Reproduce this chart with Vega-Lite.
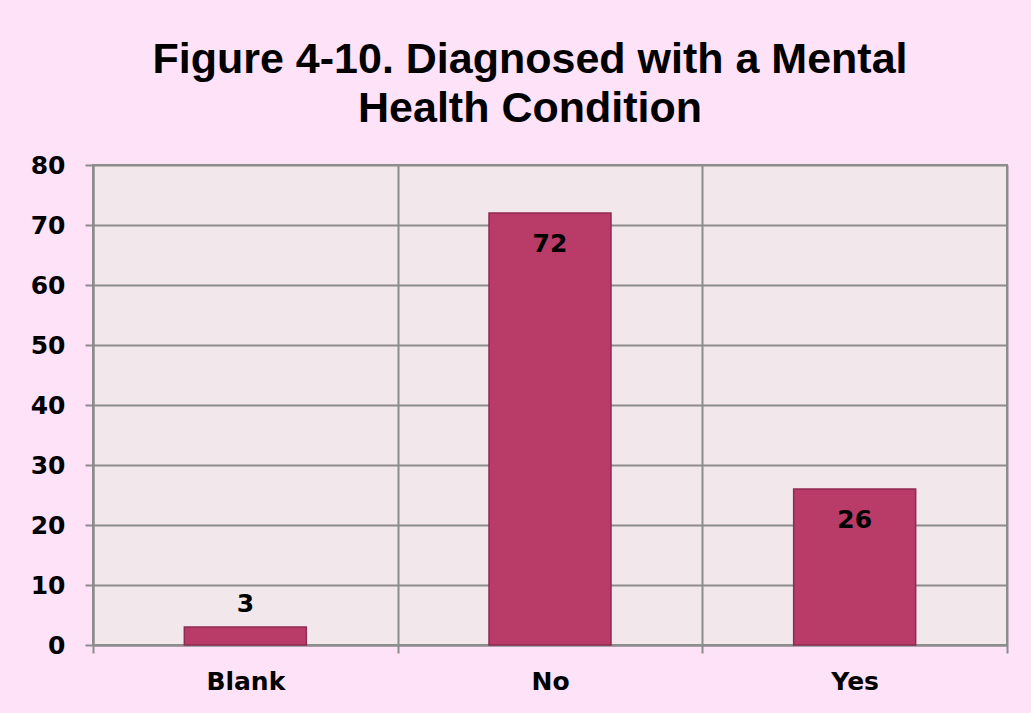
{
  "$schema": "https://vega.github.io/schema/vega-lite/v6.json",
  "width": 914,
  "height": 480,
  "autosize": {"type": "none"},
  "padding": {"left": 93, "top": 165, "right": 24, "bottom": 68},
  "background": "#FDE2F8",
  "title": {
    "text": ["Figure 4-10. Diagnosed with a Mental", "Health Condition"],
    "font": "Liberation Sans",
    "fontSize": 43,
    "fontWeight": "bold",
    "color": "#000000",
    "anchor": "middle",
    "frame": "group",
    "dx": -20,
    "offset": 22,
    "lineHeight": 49
  },
  "config": {
    "view": {"fill": "#F2E7EB", "stroke": "#8C8C8C", "strokeWidth": 2},
    "axis": {
      "labelFont": "DejaVu Sans",
      "labelFontWeight": "bold",
      "labelFontSize": 25,
      "labelColor": "#000000",
      "domainColor": "#8C8C8C",
      "domainWidth": 2,
      "tickColor": "#8C8C8C",
      "tickWidth": 2,
      "gridColor": "#8C8C8C",
      "gridWidth": 2,
      "gridOpacity": 1,
      "title": null
    }
  },
  "data": {
    "values": [
      {"category": "Blank", "count": 3},
      {"category": "No", "count": 72},
      {"category": "Yes", "count": 26}
    ]
  },
  "encoding": {
    "x": {
      "field": "category",
      "type": "nominal",
      "sort": null,
      "scale": {"paddingInner": 0, "paddingOuter": 0},
      "axis": {
        "labelAngle": 0,
        "grid": true,
        "bandPosition": 0,
        "tickBand": "extent",
        "tickSize": 8,
        "labelPadding": 16,
        "domain": true
      }
    },
    "y": {
      "field": "count",
      "type": "quantitative",
      "scale": {"domain": [0, 80], "nice": false},
      "axis": {
        "values": [0, 10, 20, 30, 40, 50, 60, 70, 80],
        "tickSize": 8,
        "labelPadding": 20,
        "grid": true
      }
    }
  },
  "layer": [
    {
      "mark": {"type": "bar", "size": 122, "color": "#B93C68", "stroke": "#8E2B52", "strokeWidth": 1.5}
    },
    {
      "transform": [{"filter": "datum.count >= 10"}],
      "mark": {"type": "text", "font": "DejaVu Sans", "fontWeight": "bold", "fontSize": 25, "color": "#000000", "baseline": "middle", "dy": 31},
      "encoding": {"text": {"field": "count", "type": "quantitative"}}
    },
    {
      "transform": [{"filter": "datum.count < 10"}],
      "mark": {"type": "text", "font": "DejaVu Sans", "fontWeight": "bold", "fontSize": 25, "color": "#000000", "baseline": "middle", "dy": -23},
      "encoding": {"text": {"field": "count", "type": "quantitative"}}
    }
  ]
}
